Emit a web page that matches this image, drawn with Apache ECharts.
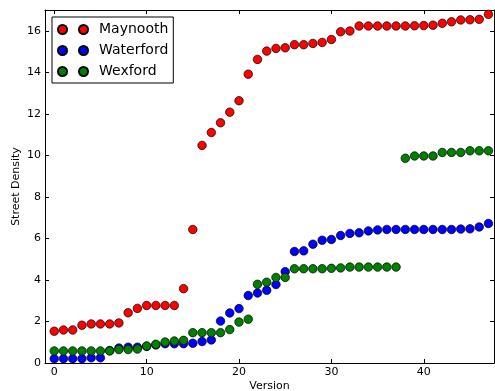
<!DOCTYPE html>
<html>
<head>
<meta charset="utf-8">
<script src="https://cdn.jsdelivr.net/npm/echarts@6/dist/echarts.min.js"></script>
<style>
	html, body { margin: 0; padding: 0; background: #fff; }
	#echart { width: 495px; height: 391px; }
</style>
</head>
<body>
<div id="echart"></div>
<script>
	// 数据
	var versions = [0,1,2,3,4,5,6,7,8,9,10,11,12,13,14,15,16,17,18,19,20,21,22,23,
		24,25,26,27,28,29,30,31,32,33,34,35,36,37,38,39,40,41,42,43,44,45,46,47];

	var maynooth = [1.53,1.59,1.59,1.82,1.88,1.88,1.88,1.93,2.42,2.63,2.77,2.77,2.77,2.77,3.58,6.43,
		10.48,11.1,11.57,12.08,12.63,13.91,14.62,15.02,15.15,15.18,15.33,15.33,15.39,15.44,15.58,15.95,
		15.99,16.23,16.23,16.23,16.23,16.23,16.23,16.24,16.25,16.27,16.36,16.43,16.52,16.53,16.55,16.79];

	var waterford = [0.21,0.21,0.21,0.21,0.25,0.25,0.6,0.72,0.76,0.76,0.8,0.87,0.93,0.93,0.93,0.95,
		1.03,1.11,2.02,2.41,2.62,3.25,3.37,3.5,3.78,4.4,5.37,5.4,5.72,5.91,5.95,6.14,
		6.24,6.27,6.36,6.41,6.43,6.43,6.43,6.43,6.43,6.43,6.43,6.43,6.45,6.46,6.55,6.72];

	// Wexford 在 37 之后跳到 10 左右
	var wexford = [0.58,0.58,0.58,0.58,0.58,0.58,0.58,0.65,0.65,0.67,0.82,0.9,1.01,1.06,1.09,1.46,
		1.46,1.46,1.46,1.61,1.97,2.11,3.79,3.89,4.12,4.12,4.54,4.54,4.54,4.54,4.56,4.58,
		4.62,4.62,4.62,4.62,4.62,4.62,9.86,9.97,9.97,9.97,10.14,10.14,10.14,10.22,10.22,10.22];

	var xTicks = [0, 10, 20, 30, 40];
	var yTicks = [0, 2, 4, 6, 8, 10, 12, 14, 16];

	var font = 'DejaVu Sans';

	function pairs(ys) {
		var out = [];
		for (var i = 0; i < versions.length; i++) {
			out.push([versions[i], ys[i]]);
		}
		return out;
	}

	function scatter(name, color, ys) {
		return {
			name: name,
			type: 'scatter',
			symbol: 'circle',
			symbolSize: 8.5,
			itemStyle: {
				color: color,
				borderColor: '#000',
				borderWidth: 0.7,
				opacity: 1
			},
			data: pairs(ys)
		};
	}

	var tick = { show: true, inside: true, length: 4, lineStyle: { color: '#000', width: 1 } };
	var line = { show: true, onZero: false, lineStyle: { color: '#000', width: 1 } };

	var xBase = {
		type: 'value', min: -1, max: 47.6,
		splitLine: { show: false },
		axisLine: line
	};
	var yBase = {
		type: 'value', min: 0, max: 17,
		splitLine: { show: false },
		axisLine: line
	};

	var myEchart = echarts.init(document.getElementById('echart'), null, { renderer: 'canvas' });

	var option = {
		animation: false,
		backgroundColor: '#fff',
		grid: { left: 45, right: 1, top: 10, bottom: 28, outerBoundsMode: 'none', containLabel: false },
		legend: {
			orient: 'vertical',
			left: 52,
			top: 17,
			padding: [4, 5, 3, 5],
			itemGap: 4,
			itemWidth: 30,
			itemHeight: 9,
			borderColor: '#000',
			borderWidth: 1,
			borderRadius: 0,
			backgroundColor: '#fff',
			icon: 'path://M0,4.5a4.5,4.5 0 1,0 9,0a4.5,4.5 0 1,0 -9,0zM21,4.5a4.5,4.5 0 1,0 9,0a4.5,4.5 0 1,0 -9,0z',
			textStyle: { fontFamily: font, fontSize: 14, color: '#000', padding: [0, 0, 0, 6], lineHeight: 17 },
			data: ['Maynooth', 'Waterford', 'Wexford']
		},
		xAxis: [
			Object.assign({}, xBase, {
				position: 'bottom',
				name: 'Version',
				nameLocation: 'middle',
				nameGap: 18,
				nameMoveOverlap: false,
				nameTextStyle: { fontFamily: font, fontSize: 11, color: '#000' },
				axisTick: Object.assign({ customValues: xTicks }, tick),
				axisLabel: { customValues: xTicks, fontFamily: font, fontSize: 11, color: '#000', margin: 4 }
			}),
			Object.assign({}, xBase, {
				position: 'top',
				axisTick: Object.assign({ customValues: xTicks }, tick),
				axisLabel: { show: false }
			})
		],
		yAxis: [
			Object.assign({}, yBase, {
				position: 'left',
				name: 'Street Density',
				nameLocation: 'middle',
				nameGap: 23,
				nameMoveOverlap: false,
				nameTextStyle: { fontFamily: font, fontSize: 11, color: '#000' },
				axisTick: Object.assign({ customValues: yTicks }, tick),
				axisLabel: { customValues: yTicks, fontFamily: font, fontSize: 11, color: '#000', margin: 4 }
			}),
			Object.assign({}, yBase, {
				position: 'right',
				axisTick: Object.assign({ customValues: yTicks }, tick),
				axisLabel: { show: false }
			})
		],
		series: [
			scatter('Maynooth', '#ff0000', maynooth),
			scatter('Waterford', '#0000ff', waterford),
			scatter('Wexford', '#008000', wexford)
		]
	};

	myEchart.setOption(option);
</script>
</body>
</html>
